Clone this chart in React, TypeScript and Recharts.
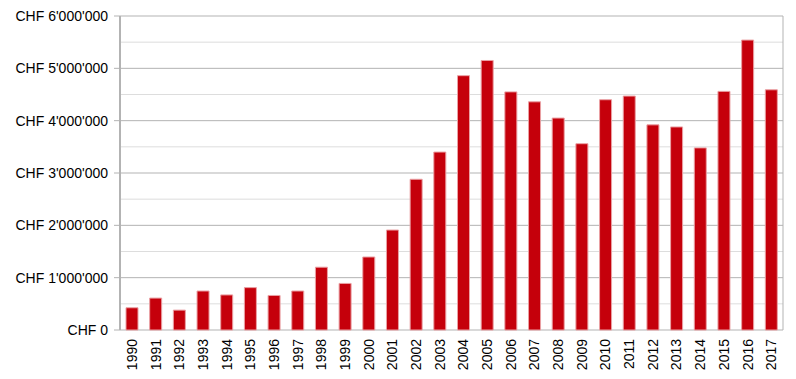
import { BarChart, Bar, XAxis, YAxis, CartesianGrid } from "recharts";

const years = [
  "1990", "1991", "1992", "1993", "1994", "1995", "1996", "1997", "1998", "1999",
  "2000", "2001", "2002", "2003", "2004", "2005", "2006", "2007", "2008", "2009",
  "2010", "2011", "2012", "2013", "2014", "2015", "2016", "2017",
];

const amounts = [
  425000, 610000, 380000, 745000, 670000, 810000, 660000, 745000, 1200000, 890000,
  1395000, 1910000, 2880000, 3400000, 4860000, 5150000, 4550000, 4360000, 4050000, 3560000,
  4400000, 4470000, 3920000, 3880000, 3480000, 4560000, 5540000, 4590000,
];

const yTicks = [0, 1000000, 2000000, 3000000, 4000000, 5000000, 6000000];
const minorTicks = [500000, 1500000, 2500000, 3500000, 4500000, 5500000];

const data = years.map((year, i) => ({ year, amount: amounts[i] }));
const boundaries = years.map((_, i) => i).concat([years.length]);

const fmt = (v: number) => "CHF " + String(v).replace(/\B(?=(\d{3})+(?!\d))/g, "'");

function YearTick(props: any) {
  const { x, y, payload } = props;
  return (
    <g transform={`translate(${x},${y})`}>
      <text
        transform="rotate(-90)"
        textAnchor="end"
        dy="0.36em"
        x={0}
        fill="#000"
        fontSize={14}
        fontFamily="'Liberation Sans', Arial, sans-serif"
      >
        {payload.value}
      </text>
    </g>
  );
}

export default function App() {
  return (
    <div style={{ position: "absolute", left: 0, top: 0, background: "#fff" }}>
      <BarChart
        width={796}
        height={379}
        data={data}
        margin={{ top: 16, right: 0, bottom: 0, left: 0 }}
      >
        <CartesianGrid
          vertical={false}
          horizontalValues={minorTicks}
          stroke="#dddddd"
          strokeWidth={1}
        />
        <CartesianGrid vertical={false} stroke="#b3b3b3" strokeWidth={1} />
        <XAxis
          dataKey="year"
          interval={0}
          tickLine={false}
          axisLine={false}
          height={49}
          tickMargin={3}
          tick={<YearTick />}
        />
        <XAxis
          xAxisId="b"
          type="number"
          domain={[0, years.length]}
          ticks={boundaries}
          interval={0}
          tick={false}
          tickSize={5}
          tickLine={{ stroke: "#b3b3b3" }}
          axisLine={{ stroke: "#b3b3b3" }}
          height={0}
        />
        <YAxis
          width={120}
          domain={[0, 6000000]}
          ticks={yTicks}
          interval={0}
          tickFormatter={fmt}
          tickSize={6}
          tickMargin={6}
          tickLine={{ stroke: "#b3b3b3" }}
          axisLine={{ stroke: "#b3b3b3", strokeWidth: 2 }}
          tick={{ fill: "#000", fontSize: 14, fontFamily: "'Liberation Sans', Arial, sans-serif" }}
        />
        <YAxis
          yAxisId="r"
          orientation="right"
          width={13}
          domain={[0, 1]}
          tick={false}
          tickLine={false}
          axisLine={{ stroke: "#b3b3b3" }}
        />
        <Bar
          dataKey="amount"
          fill="#c5000b"
          stroke="#eaa0a4"
          strokeWidth={1}
          barSize={12}
          isAnimationActive={false}
        />
      </BarChart>
    </div>
  );
}
